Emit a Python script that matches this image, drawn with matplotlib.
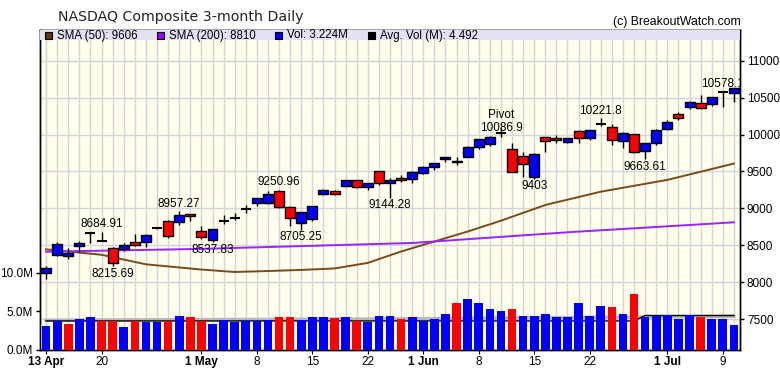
import numpy as np
import matplotlib
matplotlib.use('Agg')
import matplotlib.pyplot as plt
from matplotlib.patches import Rectangle

# ----------------data----------------
# trading days 13 Apr .. 10 Jul (index 0..62)
opens = [8120, 8365, 8360, 8490, 8660, 8561, 8460, 8444, 8540, 8539,
         8735, 8832, 8810, 8918, 8692, 8566, 8830, 8873, 8985, 9067,
         9068, 9235, 9014, 8797, 8851, 9195, 9240, 9300, 9378, 9285,
         9500, 9346, 9415, 9393, 9474, 9564, 9665, 9645, 9700, 9826,
         9867, 10022, 9803, 9713, 9428, 9962, 9948, 9898, 10051, 9948,
         10138, 10097, 9912, 10003, 9776, 9880, 10071, 10274, 10368, 10422,
         10413, 10570, 10567]
highs = [8215, 8540, 8456, 8555, 8668, 8685, 8470, 8535, 8650, 8650,
         8750, 8843, 8957, 8925, 8755, 8720, 8905, 8940, 9040, 9140,
         9235, 9251, 9030, 8955, 9032, 9260, 9250, 9390, 9385, 9345,
         9506, 9414, 9455, 9505, 9568, 9612, 9700, 9700, 9845, 9940,
         9980, 10087, 9880, 9767, 9750, 9970, 9995, 9955, 10060, 10065,
         10222, 10140, 10030, 10010, 9885, 10080, 10200, 10310, 10460, 10535,
         10510, 10578, 10635]
lows = [8045, 8350, 8310, 8410, 8535, 8555, 8216, 8420, 8495, 8470,
        8720, 8600, 8770, 8832, 8590, 8538, 8783, 8845, 8930, 9025,
        9060, 9000, 8755, 8705, 8830, 9185, 9180, 9290, 9270, 9248,
        9320, 9144, 9354, 9343, 9465, 9520, 9624, 9590, 9690, 9800,
        9850, 9970, 9490, 9430, 9403, 9760, 9890, 9880, 9880, 9920,
        10110, 9860, 9813, 9750, 9664, 9860, 10060, 10200, 10350, 10340,
        10390, 10370, 10445]
closes = [8195, 8516, 8400, 8535, 8660, 8561, 8265, 8498, 8496, 8645,
          8735, 8625, 8915, 8890, 8605, 8719, 8830, 8873, 8985, 9135,
          9200, 9014, 8864, 8946, 9028, 9250, 9190, 9378, 9285, 9340,
          9342, 9390, 9385, 9490, 9556, 9608, 9690, 9622, 9826, 9935,
          9960, 10022, 9496, 9596, 9732, 9912, 9925, 9948, 9952, 10060,
          10138, 9925, 10025, 9759, 9880, 10065, 10165, 10219, 10440, 10355,
          10503, 10570, 10625]
volume_m = [3.14, 3.74, 3.35, 4.0, 4.3, 3.74, 3.74, 3.0, 3.74, 3.61,
            3.61, 3.74, 4.39, 4.3, 3.74, 3.35, 3.91, 3.61, 3.74, 3.74,
            3.91, 4.3, 4.3, 3.91, 4.3, 4.3, 4.17, 4.3, 3.74, 3.61,
            4.39, 4.39, 4.0, 4.3, 3.74, 4.0, 4.65, 6.06, 6.58, 6.06,
            5.29, 5.03, 5.29, 4.39, 4.39, 4.65, 4.26, 4.26, 6.06, 4.39,
            5.68, 5.55, 4.65, 7.23, 4.26, 4.39, 4.52, 4.0, 4.52, 4.26,
            4.0, 4.0, 3.224]

# moving averages read at a few days (day index, value)
sma50_days = [0, 5, 9, 14, 17, 20, 23, 26, 29, 32, 35, 38, 41, 45, 50, 56, 62]
sma50_vals = [8444, 8370, 8241, 8170, 8137, 8150, 8165, 8185, 8260, 8415,
              8550, 8685, 8832, 9045, 9225, 9385, 9606]
sma200_days = [0, 14, 33, 47, 62]
sma200_vals = [8412, 8450, 8530, 8675, 8810]
avgvol_days = [0, 53, 54, 62]
avgvol_vals = [3.75, 3.75, 4.45, 4.45]
avgvol2_days = [0, 30, 62]
avgvol2_vals = [3.85, 4.0, 4.35]

tick_idx = [0, 5, 14, 19, 24, 29, 34, 39, 44, 49, 56, 61]
tick_labels = ['13 Apr', '20', '1 May', '8', '15', '22', '1 Jun', '8', '15', '22', '1 Jul', '9']
bold_labels = ['13 Apr', '1 May', '1 Jun', '1 Jul']

# annotations: (day, text, 'high'/'low')
notes = [(5, '8684.91', 'high'), (6, '8215.69', 'low'), (12, '8957.27', 'high'),
         (15, '8537.83', 'low'), (21, '9250.96', 'high'), (23, '8705.25', 'low'),
         (31, '9144.28', 'low'), (41, '10086.9', 'pivot'), (44, '9403', 'low'),
         (50, '10221.8', 'high'), (54, '9663.61', 'low'), (61, '10578.1', 'high')]

legend_items = [('#663300', 'SMA (50): 9606'), ('#9900ff', 'SMA (200): 8810'),
                ('#0000ff', 'Vol: 3.224M'), ('#000000', 'Avg. Vol (M): 4.492')]

# ----------------figure----------------
W, H = 780, 376
fig = plt.figure(figsize=(W / 100, H / 100), dpi=100)
fig.patch.set_facecolor('white')
ax = fig.add_axes([40 / W, 26 / H, 700 / W, 320 / H])
axv = ax.twinx()

TXT = 'Liberation Sans'
n = len(closes)
x = np.arange(n)

ax.set_facecolor('#ffffec')
ax.set_xlim(-0.55, n - 0.45)
ax.set_ylim(7080, 11416)
axv.set_ylim(0, 41.3)

# grid
ax.set_xticks(x, minor=True)
ax.set_xticks(tick_idx)
ax.grid(which='both', axis='x', color='#d4d4dc', lw=1)
ax.set_yticks(np.arange(7500, 11001, 500))
ax.grid(which='major', axis='y', color='#d4d4dc', lw=1)
ax.set_axisbelow(True)

# candles
for i in range(n):
    o, h, l, c = opens[i], highs[i], lows[i], closes[i]
    ax.vlines(i, l, h, color='black', lw=1, zorder=3)
    if abs(c - o) < 3:
        ax.hlines(c, i - 0.45, i + 0.45, color='black', lw=1.5, zorder=4)
    else:
        col = '#0000ff' if c > o else '#ff0000'
        ax.add_patch(Rectangle((i - 0.45, min(o, c)), 0.9, abs(c - o),
                               facecolor=col, edgecolor='black', lw=1, zorder=4))

ax.plot(sma50_days, sma50_vals, color='#7a4a1a', lw=1.4, zorder=2)
ax.plot(sma200_days, sma200_vals, color='#9a22ff', lw=1.4, zorder=2)

for day, txt, kind in notes:
    if kind == 'low':
        ax.annotate(txt, (day, lows[day]), xytext=(0, -1), textcoords='offset points',
                    ha='center', va='top', fontsize=8.5, family=TXT, zorder=6,
                    annotation_clip=False, clip_on=True)
    else:
        dy = -4 if kind == 'pivot' else 1
        ax.annotate(txt, (day, highs[day]), xytext=(0, dy), textcoords='offset points',
                    ha='center', va='bottom', fontsize=8.5, family=TXT, zorder=6,
                    annotation_clip=False, clip_on=True)
        if kind == 'pivot':
            ax.annotate('Pivot', (day, highs[day]), xytext=(0, 5), textcoords='offset points',
                        ha='center', va='bottom', fontsize=8.5, family=TXT, zorder=6)

# volume
vcols = ['#0000ff'] + ['#0000ff' if closes[i] >= closes[i - 1] else '#ff0000' for i in range(1, n)]
axv.bar(x, volume_m, width=0.78, color=vcols, zorder=3)
axv.plot(avgvol2_days, avgvol2_vals, color='#b8b8b8', lw=2.5, zorder=2)
axv.plot(avgvol_days, avgvol_vals, color='black', lw=1, zorder=2)

# axes sides: volume left, price right
axv.yaxis.tick_left()
ax.yaxis.tick_right()
axv.set_yticks([0, 5, 10])
axv.set_yticklabels(['0.0M', '5.0M', '10.0M'])
for a in (ax, axv):
    a.tick_params(axis='y', length=3, width=1, pad=2, labelsize=8.5)
    for lab in a.get_yticklabels():
        lab.set_family(TXT)
    for s in a.spines.values():
        s.set_linewidth(1)
ax.tick_params(axis='x', which='major', length=3, pad=1, labelsize=8.5)
ax.tick_params(axis='x', which='minor', length=0)
ax.set_xticklabels(tick_labels)
for lab in ax.get_xticklabels():
    lab.set_family(TXT)
    if lab.get_text() in bold_labels:
        lab.set_fontweight('bold')

# legend band
axv.add_patch(Rectangle((0, 1 - 10 / 320), 1, 10 / 320, transform=axv.transAxes,
                        facecolor='#e2e2f4', edgecolor='none', zorder=8, clip_on=False))
leg_x = [45, 157, 275, 368]
for px, (col, txt) in zip(leg_x, legend_items):
    fig.add_artist(Rectangle((px / W, (H - 39) / H), 7 / W, 7 / H,
                             transform=fig.transFigure, facecolor=col,
                             edgecolor='black', lw=0.8, zorder=9))
    fig.text((px + 12) / W, (H - 35.5) / H, txt, fontsize=8.3, family=TXT,
             va='center', ha='left', zorder=9)

fig.text(58 / W, (H - 17) / H, 'NASDAQ Composite 3-month Daily', fontsize=10.2,
         family='DejaVu Sans', color='#222222', va='center', ha='left')
fig.text(741 / W, (H - 22.5) / H, '(c) BreakoutWatch.com', fontsize=8.8,
         family=TXT, va='center', ha='right')

fig.savefig('out.png', dpi=100)
